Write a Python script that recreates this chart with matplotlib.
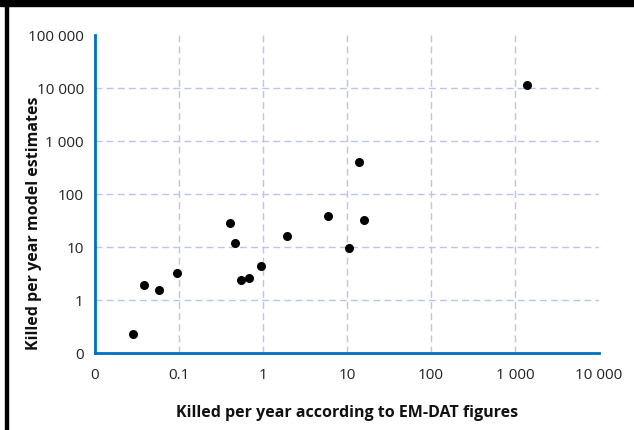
import matplotlib
matplotlib.use("Agg")
import matplotlib.pyplot as plt
from matplotlib.patches import Rectangle

# killed per year: EM-DAT figures vs model estimates
emdat_killed = [0.0286, 0.0386, 0.0573, 0.095, 0.40, 0.46, 0.54, 0.69, 0.94, 1.95, 6.0, 10.6, 14, 15.9, 1400]
model_killed = [0.23, 1.92, 1.55, 3.19, 28, 11.7, 2.38, 2.6, 4.4, 16.4, 39, 9.6, 408, 31.9, 11500]

# log axes, the "0" label sits at the bottom decade
x_ticks = [0.01, 0.1, 1, 10, 100, 1000, 10000]
x_labels = ['0', '0.1', '1', '10', '100', '1 000', '10 000']
y_ticks = [0.1, 1, 10, 100, 1000, 10000, 100000]
y_labels = ['0', '1', '10', '100', '1 000', '10 000', '100 000']

plt.rcParams['font.family'] = ['Open Sans', 'DejaVu Sans']

fig = plt.figure(figsize=(6.34, 4.31), dpi=100)
ax = fig.add_axes([95/634, 77/431, 504/634, 318/431])

ax.set_xscale('log')
ax.set_yscale('log')
ax.set_xlim(x_ticks[0], x_ticks[-1])
ax.set_ylim(y_ticks[0], y_ticks[-1])

# grid only on inner ticks
for xv in x_ticks[1:-1]:
    ax.axvline(xv, color='#bcc5e6', lw=1, ls=(0, (5, 3)), zorder=1)
for yv in y_ticks[1:-1]:
    ax.axhline(yv, color='#bcc5e6', lw=1, ls=(0, (5, 3)), zorder=1)

ax.scatter(emdat_killed, model_killed, s=30, color='black', zorder=3, clip_on=False)

ax.set_xticks(x_ticks)
ax.set_xticklabels(x_labels)
ax.set_yticks(y_ticks)
ax.set_yticklabels(y_labels)
ax.minorticks_off()
ax.tick_params(length=0, labelsize=11, labelcolor='#222222')
ax.tick_params(axis='x', pad=10)
ax.tick_params(axis='y', pad=8)

for s in ['top', 'right']:
    ax.spines[s].set_visible(False)
for s in ['left', 'bottom']:
    ax.spines[s].set_color('#0070c0')
    ax.spines[s].set_linewidth(2)

ax.set_xlabel('Killed per year according to EM-DAT figures', fontsize=11.5, fontweight='bold', color='#111111')
ax.set_ylabel('Killed per year model estimates', fontsize=11.5, fontweight='bold', color='#111111')
ax.xaxis.set_label_coords(0.5, -0.16)
ax.yaxis.set_label_coords(-0.105, 0.41)

# black frame bits: top band and left rule
fig.patches.append(Rectangle((0, 424/431), 1, 7/431, transform=fig.transFigure, color='black', zorder=0))
fig.patches.append(Rectangle((5/634, 0), 2.5/634, 1, transform=fig.transFigure, color='black', zorder=0))

fig.savefig('out.png', dpi=100)
